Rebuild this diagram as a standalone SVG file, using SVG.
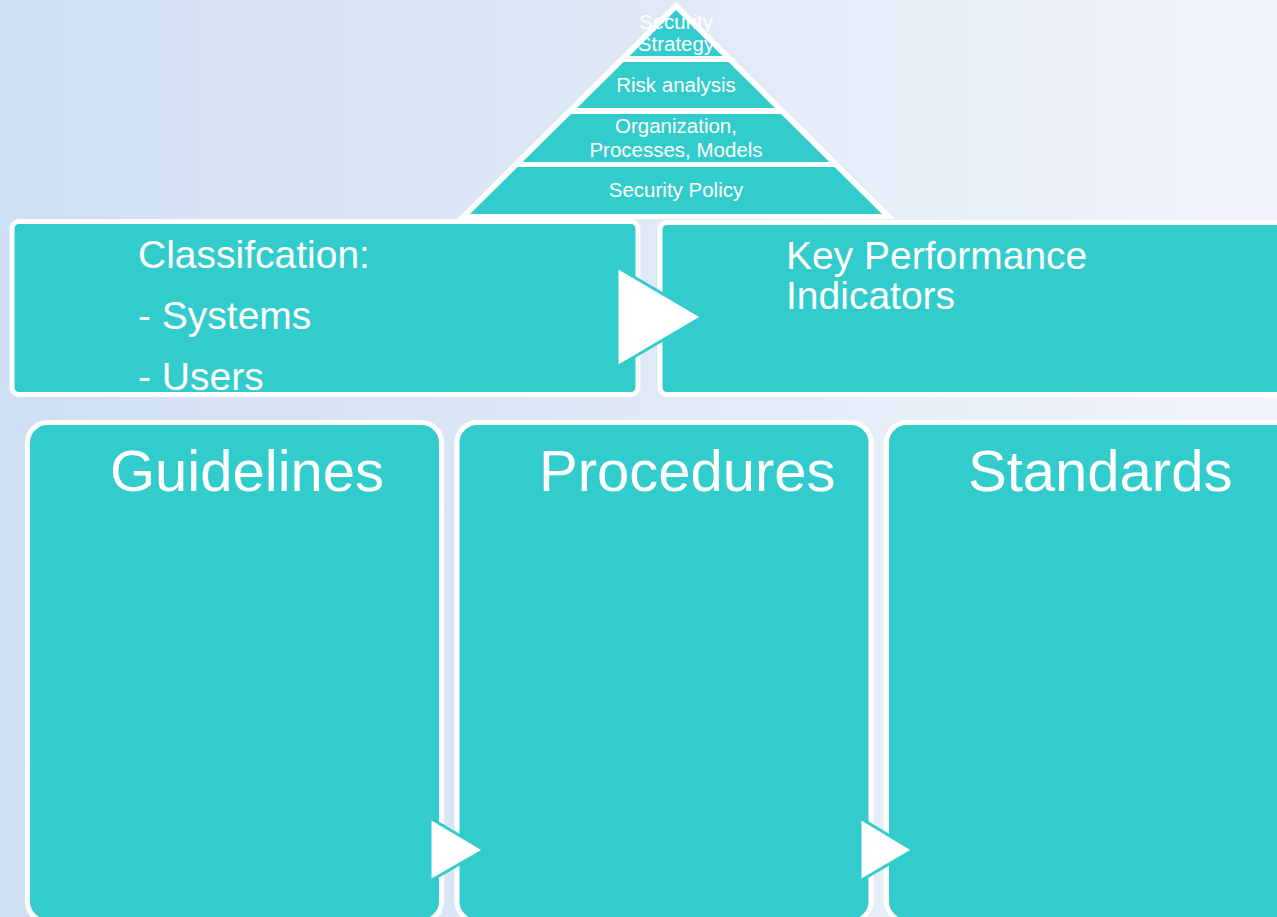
<svg xmlns="http://www.w3.org/2000/svg" width="1277" height="917" viewBox="0 0 1277 917">
<defs>
<linearGradient id="bg" x1="0" y1="0" x2="1" y2="0">
<stop offset="0" stop-color="#cfdff3"/>
<stop offset="0.5" stop-color="#dfe9f6"/>
<stop offset="1" stop-color="#f2f5fb"/>
</linearGradient>
<style>
.box{fill:#33cccc;stroke:#ffffff;stroke-width:5}
.band{fill:#33cccc}
.arrow{fill:#ffffff;stroke:#33cccc;stroke-width:3;stroke-linejoin:miter}
.t{font-family:"Liberation Sans",Arial,sans-serif;fill:#ffffff}
.ps{font-size:20.5px;text-anchor:middle}
.mid{font-size:39px}
.big{font-size:58px}
</style>
</defs>
<rect x="0" y="0" width="1277" height="917" fill="url(#bg)"/>
<g id="pyramid">
<polygon points="676,2 895,219 457,219" fill="#ffffff"/>
<polygon class="band" points="676,10 722.5,56 629.5,56"/>
<polygon class="band" points="623.5,62 728.5,62 775,108 577,108"/>
<polygon class="band" points="571,114 781,114 829.5,162 522.5,162"/>
<polygon class="band" points="517.5,167 834.5,167 882,214 470,214"/>
<text class="t ps" x="676" y="29">Security</text>
<text class="t ps" x="676" y="51">Strategy</text>
<text class="t ps" x="676" y="92">Risk analysis</text>
<text class="t ps" x="676" y="133">Organization,</text>
<text class="t ps" x="676" y="157">Processes, Models</text>
<text class="t ps" x="676" y="197">Security Policy</text>
</g>
<g id="classification">
<rect class="box" x="12" y="221.5" width="626" height="173" rx="7"/>
<text class="t mid" x="138" y="268">Classifcation:</text>
<text class="t mid" x="138" y="329">- Systems</text>
<text class="t mid" x="138" y="390">- Users</text>
</g>
<g id="kpi">
<rect class="box" x="660" y="222.5" width="700" height="172" rx="7"/>
<text class="t mid" x="786" y="269">Key Performance</text>
<text class="t mid" x="786" y="309">Indicators</text>
</g>
<g id="guidelines">
<rect class="box" x="27.5" y="422.5" width="414" height="499" rx="20"/>
<text class="t big" x="110" y="491">Guidelines</text>
</g>
<g id="procedures">
<rect class="box" x="457" y="422.5" width="414" height="499" rx="20"/>
<text class="t big" x="539" y="491">Procedures</text>
</g>
<g id="standards">
<rect class="box" x="886.5" y="422.5" width="500" height="499" rx="20"/>
<text class="t big" x="968" y="491">Standards</text>
</g>
<g id="connectors">
<polygon class="arrow" points="617,267 702,317 617,367"/>
<polygon class="arrow" points="430,818 484,850 430,881"/>
<polygon class="arrow" points="860,818 913,850 860,881"/>
</g>
</svg>
